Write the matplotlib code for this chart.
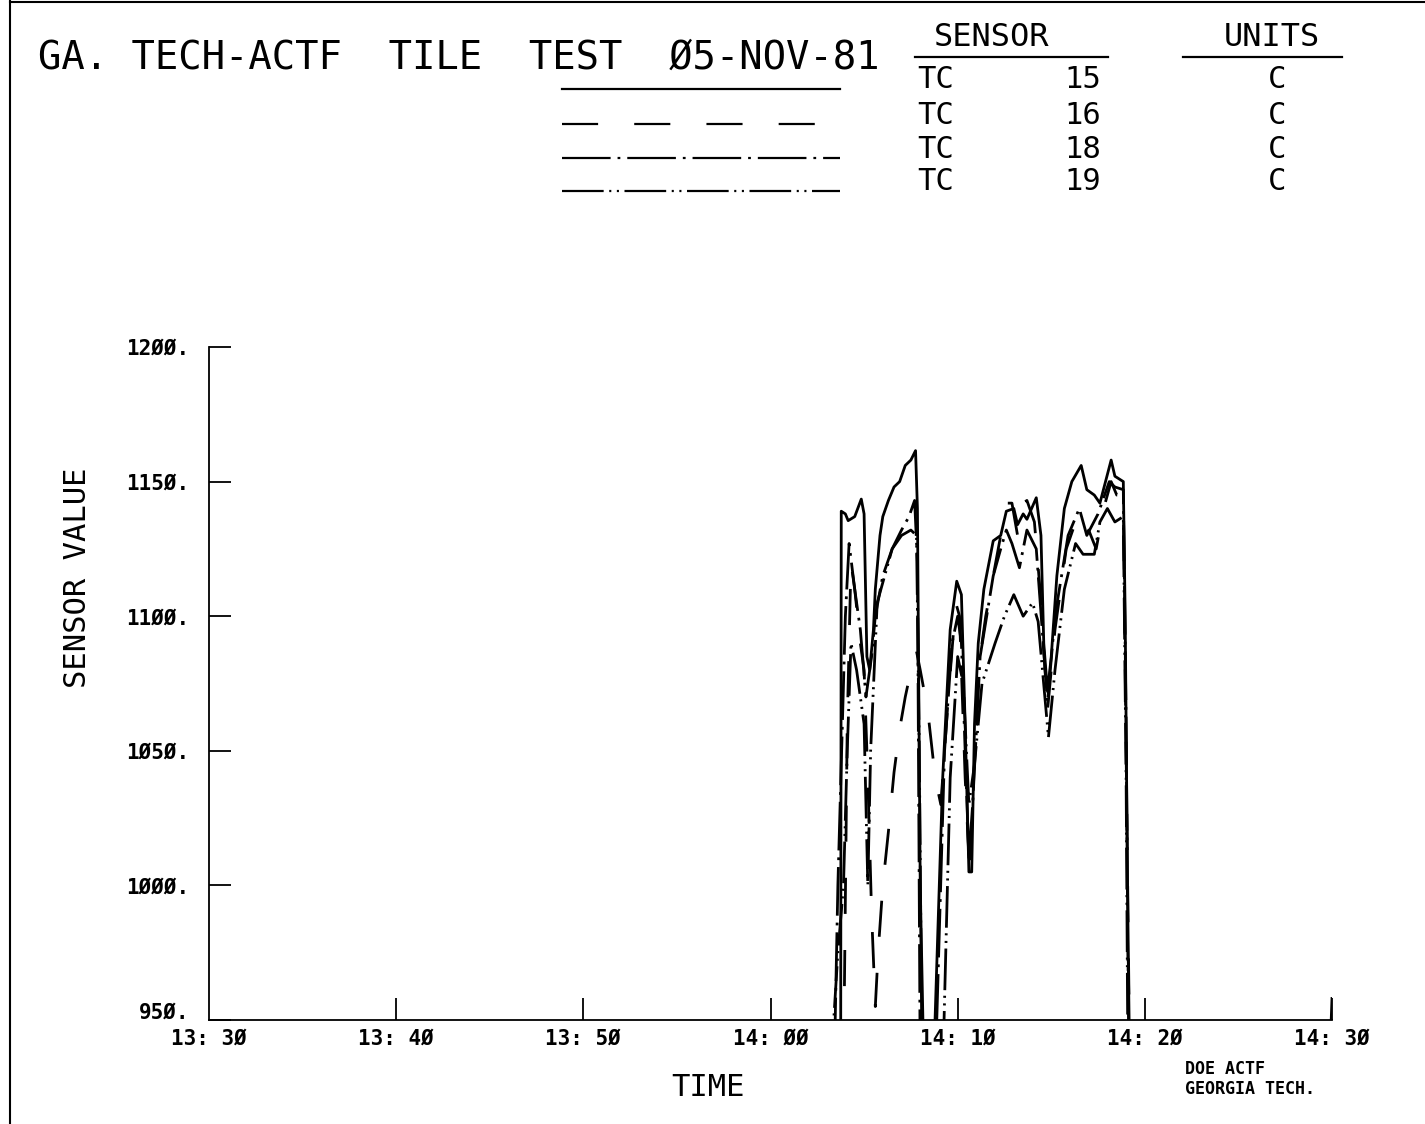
import matplotlib
matplotlib.use("Agg")
import matplotlib.pyplot as plt
import matplotlib.transforms as mtransforms
from matplotlib.lines import Line2D

# time in minutes after 13:30, values in C (values under 950 run off the scale)
tc15_t = [0, 33.0, 33.75, 33.78, 34.0, 34.15, 34.5, 34.85, 35.0, 35.15, 35.3, 35.5, 35.6,
          35.85, 36.0, 36.3, 36.6, 36.9, 37.2, 37.5, 37.75, 37.85, 38.0, 38.2,
          38.7, 39.2, 39.6, 39.95, 40.2, 40.4, 40.6, 40.75, 40.9, 41.1, 41.4, 41.9, 42.3,
          42.6, 43.0, 43.2, 43.5, 43.7, 44.2, 44.45, 44.6, 44.8, 45.0, 45.3, 45.7, 46.1,
          46.6, 46.9, 47.3, 47.6, 47.9, 48.2, 48.4, 48.85, 48.95, 49.1, 49.2, 59.85, 60.0]
tc15_v = [930, 930, 940, 1139, 1138, 1135.5, 1137, 1143.5, 1138, 1085, 1080, 1095, 1110,
          1130, 1137, 1143, 1148, 1150, 1156, 1158, 1161.5, 1140, 1000, 930,
          930, 1040, 1095, 1113, 1108, 1060, 1005, 1005, 1060, 1090, 1110, 1128, 1130,
          1139, 1140, 1134, 1138, 1136, 1144, 1130, 1090, 1072, 1085, 1115, 1140, 1150,
          1156, 1147, 1145, 1142, 1150, 1158, 1152, 1150, 1100, 980, 930, 930, 958]

tc16_t = [0, 33.9, 34.1, 34.3, 34.5, 34.8, 35.0, 35.2, 35.4, 35.6, 35.75, 36.0, 36.3, 36.6,
          36.9, 37.2, 37.6, 37.8, 38.0, 38.4, 38.8, 39.1, 39.5, 39.9, 40.1, 40.4, 40.65,
          40.8, 41.1, 41.5, 41.9, 42.3, 42.6, 42.9, 43.2, 43.5, 43.7, 44.1, 44.4, 44.8,
          45.2, 45.8, 46.3, 46.7, 47.0, 47.4, 47.8, 48.2, 48.5, 48.85, 49.0, 49.2, 60.0]
tc16_v = [930, 930, 1060, 1120, 1110, 1090, 1080, 1040, 990, 955, 975, 1000, 1020, 1042,
          1058, 1070, 1083, 1087, 1080, 1065, 1040, 1030, 1070, 1105, 1100, 1040, 1003,
          1030, 1080, 1100, 1115, 1130, 1142, 1142, 1130, 1142, 1143, 1135, 1110, 1065,
          1095, 1125, 1135, 1128, 1132, 1125, 1140, 1150, 1145, 1145, 1050, 930, 930]

tc18_t = [0, 33.4, 33.6, 34.0, 34.2, 34.5, 34.8, 35.1, 35.4, 35.6, 36.0, 36.5, 37.0,
          37.4, 37.7, 37.85, 38.0, 38.8, 39.3, 39.7, 40.0, 40.2, 40.6, 40.8, 41.2, 41.9,
          42.3, 42.6, 42.9, 43.3, 43.7, 44.2, 44.8, 45.2, 45.9, 46.5, 46.9, 47.5, 48.1,
          48.4, 48.85, 49.0, 49.15, 59.9, 60.0]
tc18_v = [930, 930, 1000, 1100, 1127, 1110, 1095, 1070, 1085, 1100, 1115, 1125, 1132,
          1137, 1143, 1120, 930, 930, 1050, 1090, 1100, 1090, 1010, 1030, 1085, 1115,
          1125, 1132, 1127, 1118, 1132, 1125, 1068, 1100, 1130, 1140, 1130, 1138, 1150,
          1148, 1147, 1060, 930, 930, 952]

tc19_t = [0, 33.2, 33.6, 33.9, 34.1, 34.3, 34.6, 35.0, 35.2, 35.35, 35.7, 36.1, 36.5,
          37.0, 37.5, 37.8, 37.95, 38.1, 39.2, 39.6, 40.0, 40.3, 40.6, 40.9, 41.3, 42.0,
          42.5, 43.0, 43.5, 44.0, 44.3, 44.85, 45.2, 45.7, 46.3, 46.7, 47.3, 47.6, 48.0,
          48.4, 48.85, 49.0, 49.1, 60.0]
tc19_v = [930, 930, 975, 1000, 1050, 1090, 1080, 1060, 1000, 1050, 1105, 1115, 1125,
          1130, 1132, 1130, 1050, 930, 930, 1040, 1085, 1075, 1030, 1045, 1075, 1090,
          1100, 1108, 1100, 1105, 1098, 1055, 1080, 1110, 1127, 1123, 1123, 1135, 1140,
          1135, 1137, 1040, 930, 930]

sensor_names = ["TC", "TC", "TC", "TC"]
sensor_ids = ["15", "16", "18", "19"]
sensor_units = ["C", "C", "C", "C"]

x_ticks = [0, 10, 20, 30, 40, 50, 60]
x_tick_labels = ["13: 3Ø", "13: 4Ø", "13: 5Ø", "14: ØØ", "14: 1Ø", "14: 2Ø", "14: 3Ø"]
y_ticks = [950, 1000, 1050, 1100, 1150, 1200]
y_tick_labels = ["95Ø.", "1ØØØ.", "1Ø5Ø.", "11ØØ.", "115Ø.", "12ØØ."]

plt.rcParams["font.family"] = ["DejaVu Sans Mono", "DejaVu Sans"]
plt.rcParams["lines.scale_dashes"] = False

W, H = 1425, 1124
fig = plt.figure(figsize=(W / 100, H / 100), dpi=100)


def px(x, y):
    return x / W, 1 - y / H


styles = [
    "-",
    (0, (26, 26)),
    (0, (35, 5, 2, 5)),
    (0, (30, 4, 1.5, 4, 1.5, 4)),
]
series = [(tc15_t, tc15_v), (tc16_t, tc16_v), (tc18_t, tc18_v), (tc19_t, tc19_v)]

ax = fig.add_axes([209 / W, 104 / H, (1332 - 209) / W, (1020 - 347) / H])
for (t, v), ls in zip(series, styles):
    ax.plot(t, v, color="black", linestyle=ls, linewidth=2.0)

ax.set_xlim(0, 60)
ax.set_ylim(950, 1200)
for side in ["top", "right"]:
    ax.spines[side].set_visible(False)
for side in ["left", "bottom"]:
    ax.spines[side].set_linewidth(1.3)

ax.set_xticks(x_ticks)
ax.set_xticklabels(x_tick_labels, fontweight="bold", fontsize=15)
ax.set_yticks(y_ticks)
ax.set_yticklabels(y_tick_labels, fontweight="bold", fontsize=15)
ax.tick_params(axis="both", direction="in", length=16, width=1.3)
ax.tick_params(axis="x", pad=6)
ax.tick_params(axis="y", pad=14)
ax.xaxis.get_major_ticks()[0].tick1line.set_visible(False)

# lift the bottom value label clear of the first time label
lift = mtransforms.ScaledTranslation(0, 7 / 72, fig.dpi_scale_trans)
low_label = ax.get_yticklabels()[0]
low_label.set_transform(low_label.get_transform() + lift)

ax.set_xlabel("TIME", fontsize=22, va="center")
ax.xaxis.set_label_coords((708 - 209) / 1123, (1020 - 1087) / 673)
ax.set_ylabel("SENSOR VALUE", fontsize=22, va="center")
ax.yaxis.set_label_coords((78 - 209) / 1123, (1020 - 578) / 673)

# page border
fig.add_artist(Line2D([10 / W, 10 / W], [0, 1], color="black", lw=1.5))
fig.add_artist(Line2D([10 / W, 1], [1 - 2 / H, 1 - 2 / H], color="black", lw=1.5))

# title
fig.text(*px(38, 58), "GA. TECH-ACTF  TILE  TEST  Ø5-NOV-81", fontsize=28,
         ha="left", va="center")

# sensor key
fig.text(*px(992, 37), "SENSOR", fontsize=23, ha="center", va="center")
fig.text(*px(1272, 37), "UNITS", fontsize=23, ha="center", va="center")
fig.add_artist(Line2D([915 / W, 1108 / W], [1 - 57 / H] * 2, color="black", lw=1.6))
fig.add_artist(Line2D([1183 / W, 1342 / W], [1 - 57 / H] * 2, color="black", lw=1.6))

row_y = [80, 115, 149, 182]
key_ends = [840, 815, 840, 840]
for ry, ls, end, name, sid, unit in zip(row_y, styles, key_ends, sensor_names,
                                         sensor_ids, sensor_units):
    yy = 1 - (ry + 9) / H
    fig.add_artist(Line2D([562 / W, end / W], [yy, yy], color="black",
                          linestyle=ls, lw=1.6))
    fig.text(*px(917, ry), name, fontsize=22, ha="left", va="center")
    fig.text(*px(1101, ry), sid, fontsize=22, ha="right", va="center")
    fig.text(*px(1277, ry), unit, fontsize=22, ha="center", va="center")

fig.text(*px(1185, 1069), "DOE ACTF", fontsize=12, fontweight="bold",
         ha="left", va="center")
fig.text(*px(1185, 1089), "GEORGIA TECH.", fontsize=12, fontweight="bold",
         ha="left", va="center")

fig.savefig("out.png", dpi=100)
